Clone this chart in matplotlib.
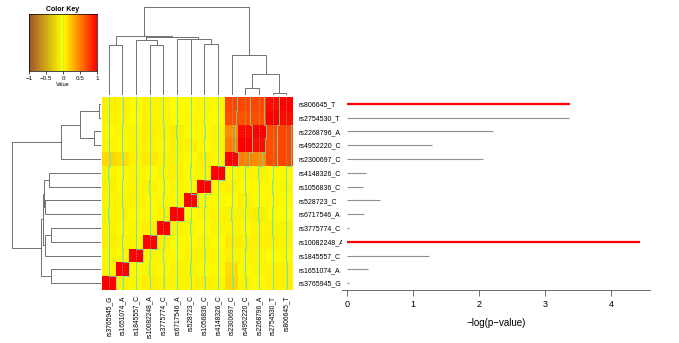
import numpy as np
import matplotlib
matplotlib.use('Agg')
import matplotlib.pyplot as plt
from matplotlib.colors import LinearSegmentedColormap

plt.rcParams['font.family'] = ['Liberation Sans', 'DejaVu Sans']

# rows top -> bottom (columns are the same SNPs, left -> right reversed)
snps = ['rs806645_T', 'rs2754530_T', 'rs2268796_A', 'rs4952220_C', 'rs2300697_C',
        'rs4148326_C', 'rs1056836_C', 'rs528723_C', 'rs6717546_A', 'rs3775774_C',
        'rs10082248_A', 'rs1845557_C', 'rs1651074_A', 'rs3765945_G']
neglogp = [3.38, 3.36, 2.20, 1.28, 2.05, 0.28, 0.24, 0.50, 0.26, 0.03, 4.43, 1.24, 0.32, 0.03]
highlight = ['rs806645_T', 'rs10082248_A']

# upper triangle of the correlation matrix, row i vs rows i+1..13
upper = [
    [0.95, 0.72, 0.72, 0.72, 0.03, -0.04, 0.02, 0.00, -0.06, 0.04, 0.02, 0.05, 0.06],
    [0.70, 0.68, 0.70, 0.02, -0.03, 0.03, -0.02, -0.05, 0.05, 0.01, 0.04, 0.05],
    [0.95, 0.45, -0.06, 0.03, -0.02, -0.08, 0.04, 0.06, -0.05, -0.04, 0.03],
    [0.50, -0.05, 0.02, 0.05, -0.07, 0.03, 0.05, -0.04, -0.03, 0.04],
    [0.03, 0.06, 0.02, -0.06, 0.04, 0.08, 0.05, 0.12, 0.15],
    [0.04, -0.03, 0.05, -0.06, 0.02, -0.04, 0.03, -0.05],
    [0.03, -0.05, 0.02, -0.06, 0.04, -0.03, 0.06],
    [0.02, -0.04, 0.03, 0.05, -0.06, 0.04],
    [0.05, -0.03, 0.02, 0.04, -0.05],
    [0.06, -0.04, 0.03, 0.05],
    [0.04, -0.06, 0.07],
    [0.03, -0.04],
    [0.05],
]

# dendrogram merges on column leaf index (0 = leftmost column), new clusters get 14, 15, ...
merges = [
    (12, 13, 0.01), (10, 11, 0.07), (15, 14, 0.23), (9, 16, 0.445),
    (0, 1, 0.56), (3, 4, 0.56), (7, 8, 0.575), (2, 19, 0.62),
    (5, 6, 0.63), (22, 20, 0.635), (21, 23, 0.65), (18, 24, 0.667),
    (25, 17, 1.0),
]

n = len(snps)
M = np.eye(n)
for i, row in enumerate(upper):
    for k, v in enumerate(row):
        M[i, i + 1 + k] = v
        M[i + 1 + k, i] = v
img = M[:, ::-1]
col_labels = snps[::-1]

W, H = 679, 343
fig = plt.figure(figsize=(W / 100, H / 100), dpi=100)

def px_axes(x0, y0, x1, y1):
    return fig.add_axes([x0 / W, 1 - y1 / H, (x1 - x0) / W, (y1 - y0) / H])

cmap = LinearSegmentedColormap.from_list('k', ['#A0522D', '#FFFF00', '#FF0000'])
trace = '#55E3C8'
dcol = '#707070'

# heatmap
ax = px_axes(102, 97, 293, 290)
ax.imshow(img, cmap=cmap, vmin=-1, vmax=1, extent=[0, n, n, 0], aspect='auto',
          interpolation='nearest')
for j in range(n):
    ax.axvline(j + 0.5, color=trace, lw=0.5, ls=(0, (2, 2)), alpha=0.8)
    xs, ys = [], []
    for i in range(n):
        xv = j + (img[i, j] + 1) / 2
        xs += [xv, xv]
        ys += [i, i + 1]
    ax.plot(xs, ys, color=trace, lw=0.6, alpha=0.9)
ax.set_xlim(0, n)
ax.set_ylim(n, 0)
ax.set_xticks(np.arange(n) + 0.5)
ax.set_xticklabels(col_labels, rotation=90, fontsize=4.8)
ax.set_yticks(np.arange(n) + 0.5)
ax.set_yticklabels(snps, fontsize=5)
ax.yaxis.tick_right()
ax.tick_params(length=0, pad=4)
for s in ax.spines.values():
    s.set_visible(False)

# dendrograms
def dendro_lines():
    pos = {k: k + 0.5 for k in range(n)}
    hgt = {k: 0.0 for k in range(n)}
    segs = []
    for m, (a, b, h) in enumerate(merges):
        segs.append(([pos[a], pos[a], pos[b], pos[b]], [hgt[a], h, h, hgt[b]]))
        pos[n + m] = (pos[a] + pos[b]) / 2
        hgt[n + m] = h
    return segs

axc = px_axes(102, 7, 293, 94)
for xs, ys in dendro_lines():
    axc.plot(xs, ys, color=dcol, lw=0.7, clip_on=False)
axc.set_xlim(0, n)
axc.set_ylim(0, 1)
axc.axis('off')

axr = px_axes(12, 97, 100, 290)
for xs, ys in dendro_lines():
    axr.plot(ys, [n - x for x in xs], color=dcol, lw=0.7, clip_on=False)
axr.set_xlim(1, 0)
axr.set_ylim(n, 0)
axr.axis('off')

# -log(p) bars
axb = px_axes(342, 97, 650, 290)
axb.set_facecolor('white')
for i, (name, v) in enumerate(zip(snps, neglogp)):
    if name in highlight:
        axb.plot([0, v], [i + 0.5, i + 0.5], color='#FF0000', lw=1.6, solid_capstyle='butt')
    else:
        axb.plot([0, v], [i + 0.5, i + 0.5], color='#909090', lw=0.8, solid_capstyle='butt')
axb.set_xlim(-0.08, 4.586)
axb.set_ylim(n, 0)
axb.set_yticks([])
axb.set_xticks([0, 1, 2, 3, 4])
axb.tick_params(axis='x', labelsize=6.5, length=4, width=0.6, color='#555555', pad=3)
for side in ['top', 'right', 'left']:
    axb.spines[side].set_visible(False)
axb.spines['bottom'].set_linewidth(0.6)
axb.spines['bottom'].set_color('#555555')
axb.set_xlabel('\u2212log(p\u2212value)', fontsize=7, labelpad=7)

# color key
axk = px_axes(29, 14, 97, 71)
grad = np.linspace(-1, 1, 256).reshape(1, -1)
axk.imshow(grad, cmap=cmap, vmin=-1, vmax=1, extent=[-1, 1, 0, 1], aspect='auto')
axk.axvline(0, color=trace, lw=0.6, ls=(0, (1, 1.5)))
axk.set_xlim(-1, 1)
axk.set_yticks([])
axk.set_xticks([-1, -0.5, 0, 0.5, 1])
axk.set_xticklabels(['\u22121', '\u22120.5', '0', '0.5', '1'])
axk.tick_params(axis='x', labelsize=4.5, length=2, width=0.5, pad=1.5)
for s in axk.spines.values():
    s.set_linewidth(0.5)
axk.set_title('Color Key', fontsize=5, fontweight='bold', pad=2)
axk.set_xlabel('Value', fontsize=4, labelpad=1)

fig.savefig('out.png', dpi=100)
